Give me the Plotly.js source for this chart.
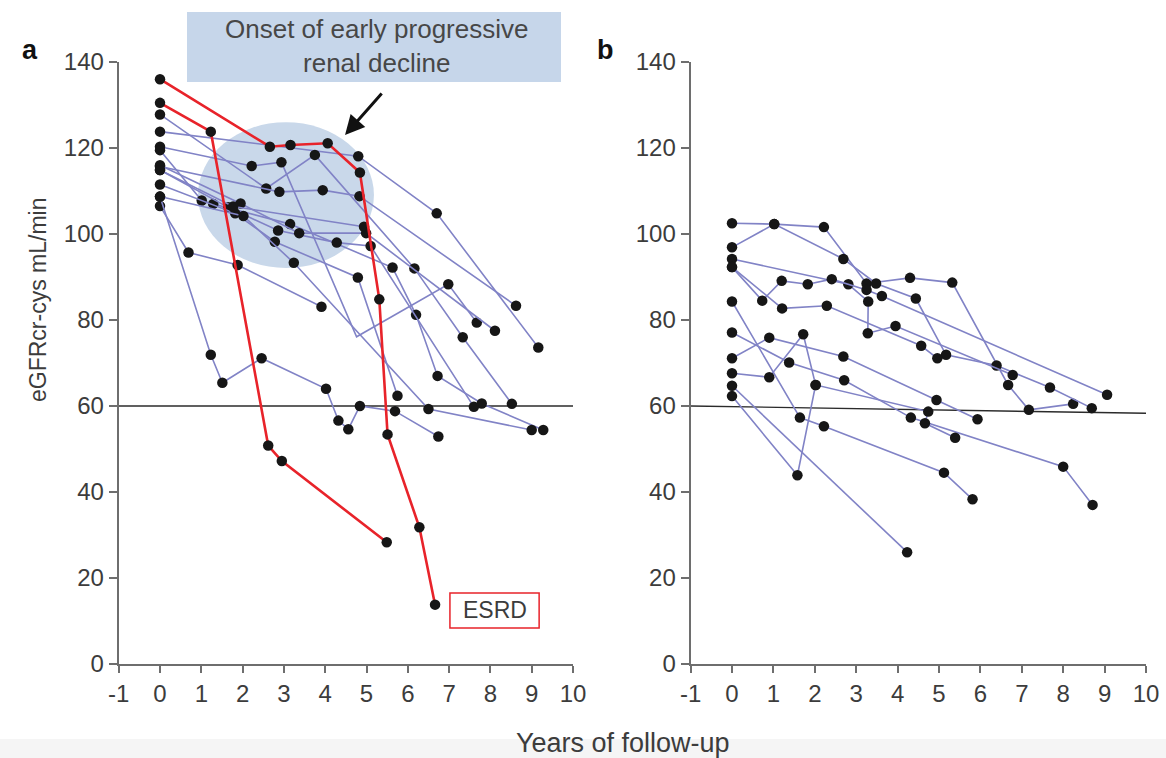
<!DOCTYPE html>
<html>
<head>
<meta charset="utf-8">
<script src="https://cdn.plot.ly/plotly-3.0.1.min.js"></script>
<style>html,body{margin:0;padding:0;background:#fff;}#chart{width:1166px;height:758px;}</style>
</head>
<body>
<div id="chart"></div>
<script>
// ---------- Panel a: individual trajectories (years, eGFRcr-cys mL/min) ----------
const a1x = [0, 4.8, 6.7, 9.16];                 const a1y = [123.8, 118.1, 104.8, 73.6];
const a2x = [0, 0.69, 1.88, 3.91];               const a2y = [106.5, 95.7, 92.8, 83.1];
const a3x = [0, 1.23, 1.51, 2.46, 4.02, 4.32, 4.56, 4.84, 5.69, 6.74];
const a3y = [108.7, 71.9, 65.4, 71.1, 64, 56.6, 54.6, 60, 58.8, 52.9];
const a4x = [0, 2.57, 3.75, 6.16, 7.33, 8.52];   const a4y = [127.8, 110.6, 118.4, 92, 76, 60.5];
const a5x = [0, 2.22, 2.94, 4.76, 6.98, 7.67];   const a5y = [120.3, 115.8, 116.7, 76.1, 88.3, 79.4];
const a5hidden = [3]; // vertex drawn without a dot
const a6x = [0, 1.01, 1.29, 3.15, 5.63, 6.2, 6.72, 7.79, 9.28];
const a6y = [119.5, 107.8, 107, 102.3, 92.2, 81.2, 67, 60.6, 54.4];
const a7x = [0, 2.89, 3.94, 4.83, 8.62];         const a7y = [115.7, 109.8, 110.2, 108.8, 83.3];
const a8x = [0, 1.65, 2.86, 4.28, 5.1, 7.6];     const a8y = [114.9, 106.2, 100.8, 98, 97.2, 59.8];
const a9x = [0, 1.82, 2.78, 4.79, 5.75];         const a9y = [111.5, 104.8, 98.2, 89.9, 62.4];
const a10x = [0, 1.95, 3.37, 4.99, 8.11];        const a10y = [116, 107.1, 100.2, 100.2, 77.5];
const a11x = [0, 2.02, 3.24, 6.5, 9.0];          const a11y = [108.7, 104.2, 93.3, 59.3, 54.4];
const a12x = [0, 1.77, 4.94];                    const a12y = [114.9, 106.4, 101.7];
// ESRD trajectories (red)
const r1x = [0, 2.66, 3.16, 4.06, 4.84, 5.31, 5.51, 6.28, 6.66];
const r1y = [136, 120.3, 120.7, 121.1, 114.3, 84.8, 53.4, 31.8, 13.8];
const r2x = [0, 1.23, 2.62, 2.95, 5.49];         const r2y = [130.5, 123.8, 50.8, 47.2, 28.3];

// ---------- Panel b ----------
const b1x = [0, 1.02, 2.22, 3.25, 4.3, 5.32, 6.67, 7.17, 8.24];
const b1y = [96.9, 102.3, 101.6, 88.5, 89.8, 88.7, 64.9, 59.1, 60.5];
const b2x = [0, 1.02, 2.69, 3.48, 4.44, 5.17, 6.39, 7.68, 8.69];
const b2y = [102.5, 102.3, 94.2, 88.5, 85, 71.9, 69.4, 64.3, 59.5];
const b3x = [0, 2.81, 3.29, 3.28, 3.95, 6.78];   const b3y = [94.2, 88.3, 84.3, 76.9, 78.6, 67.2];
const b4x = [0, 0.73, 1.2, 1.83, 2.41, 3.25, 3.62, 9.06];
const b4y = [92.3, 84.5, 89.1, 88.3, 89.5, 87, 85.6, 62.6];
const b5x = [0, 1.21, 2.29, 4.57, 4.96];         const b5y = [92.3, 82.7, 83.3, 74, 71.1];
const b6x = [0, 1.64, 2.22, 5.12, 5.81];         const b6y = [84.3, 57.3, 55.3, 44.5, 38.3];
const b7x = [0, 1.38, 2.71, 4.32, 8.0, 8.71];    const b7y = [77.1, 70.1, 66, 57.3, 45.9, 37];
const b8x = [0, 0.9, 2.69, 4.94, 5.93];          const b8y = [71.1, 75.9, 71.5, 61.4, 56.9];
const b9x = [0, 0.9, 1.72, 2.02, 4.74, 4.66, 5.39];
const b9y = [67.6, 66.7, 76.7, 64.9, 58.7, 56, 52.6];
const b10x = [0, 4.23];                          const b10y = [64.7, 26];
const b11x = [0, 1.58, 2.02];                    const b11y = [62.3, 43.9, 64.9];

// Tick labels
const xTicks = [-1, 0, 1, 2, 3, 4, 5, 6, 7, 8, 9, 10];
const yTicks = [0, 20, 40, 60, 80, 100, 120, 140];
// Reference lines (eGFR 60)
const refA = {x: [-1, 10], y: [60, 60]};
const refB = {x: [-1, 10.1], y: [60, 58.3]};

const BLUE = '#8183c6', RED = '#e8232a', DOT = '#161616';
const W = 1166, H = 758;

function traj(x, y, axis, color, width, hidden) {
  const sizes = x.map((_, i) => (hidden && hidden.includes(i)) ? 0 : 10.5);
  return {x, y, type: 'scatter', mode: 'lines+markers', xaxis: axis[0], yaxis: axis[1],
    line: {color, width}, marker: {color: DOT, size: sizes, opacity: 1, line: {width: 0}},
    hoverinfo: 'skip', showlegend: false};
}
const A = ['x', 'y'], B = ['x2', 'y2'];
const data = [
  traj(a1x, a1y, A, BLUE, 1.6), traj(a2x, a2y, A, BLUE, 1.6), traj(a3x, a3y, A, BLUE, 1.6),
  traj(a4x, a4y, A, BLUE, 1.6), traj(a5x, a5y, A, BLUE, 1.6, a5hidden), traj(a6x, a6y, A, BLUE, 1.6),
  traj(a7x, a7y, A, BLUE, 1.6), traj(a8x, a8y, A, BLUE, 1.6), traj(a9x, a9y, A, BLUE, 1.6),
  traj(a10x, a10y, A, BLUE, 1.6), traj(a11x, a11y, A, BLUE, 1.6), traj(a12x, a12y, A, BLUE, 1.6),
  traj(r1x, r1y, A, RED, 2.6), traj(r2x, r2y, A, RED, 2.6),
  traj(b1x, b1y, B, BLUE, 1.6), traj(b2x, b2y, B, BLUE, 1.6), traj(b3x, b3y, B, BLUE, 1.6),
  traj(b4x, b4y, B, BLUE, 1.6), traj(b5x, b5y, B, BLUE, 1.6), traj(b6x, b6y, B, BLUE, 1.6),
  traj(b7x, b7y, B, BLUE, 1.6), traj(b8x, b8y, B, BLUE, 1.6), traj(b9x, b9y, B, BLUE, 1.6),
  traj(b10x, b10y, B, BLUE, 1.6), traj(b11x, b11y, B, BLUE, 1.6)
];

const FONT = 'Liberation Sans, Arial, Helvetica, sans-serif';
const TXT = '#3c3c3c';
function xax(domain, anchor) {
  return {domain, anchor, range: [-1, 10], tickvals: xTicks, ticktext: xTicks.map(String),
    showgrid: false, zeroline: false, showline: true, linecolor: '#6e6e6e', linewidth: 2,
    ticks: 'outside', ticklen: 7, tickwidth: 2, tickcolor: '#6e6e6e',
    tickfont: {family: FONT, size: 24, color: TXT}, fixedrange: true};
}
function yax(anchor) {
  return {domain: [94 / H, 1 - 62 / H], anchor, range: [0, 140], tickvals: yTicks, ticktext: yTicks.map(String),
    showgrid: false, zeroline: false, showline: true, linecolor: '#6e6e6e', linewidth: 2,
    ticks: 'outside', ticklen: 8, tickwidth: 2, tickcolor: '#6e6e6e',
    tickfont: {family: FONT, size: 24, color: TXT}, fixedrange: true};
}

const layout = {
  width: W, height: H, margin: {l: 0, r: 0, t: 0, b: 0},
  paper_bgcolor: '#ffffff', plot_bgcolor: 'rgba(0,0,0,0)', showlegend: false,
  xaxis: xax([118.7 / W, 573 / W], 'y'),
  yaxis: yax('x'),
  xaxis2: xax([690.6 / W, 1146 / W], 'y2'),
  yaxis2: yax('x2'),
  shapes: [
    {type: 'rect', xref: 'paper', yref: 'paper', x0: 0, x1: 1, y0: 0, y1: 19 / H,
      fillcolor: '#f5f5f5', line: {width: 0}, layer: 'below'},
    {type: 'circle', xref: 'x', yref: 'y', x0: 0.92, x1: 5.18, y0: 92.1, y1: 126,
      fillcolor: '#c9d8ea', line: {width: 0}, layer: 'below'},
    {type: 'rect', xref: 'paper', yref: 'paper', x0: 187 / W, x1: 561 / W, y0: 1 - 82 / H, y1: 1 - 12 / H,
      fillcolor: '#c6d6ea', line: {width: 0}, layer: 'below'},
    {type: 'line', xref: 'x', yref: 'y', x0: refA.x[0], x1: refA.x[1], y0: refA.y[0], y1: refA.y[1],
      line: {color: '#2b2b2b', width: 1.4}, layer: 'below'},
    {type: 'line', xref: 'x2', yref: 'y2', x0: refB.x[0], x1: refB.x[1], y0: refB.y[0], y1: refB.y[1],
      line: {color: '#2b2b2b', width: 1.4}, layer: 'below'},
    {type: 'rect', xref: 'x', yref: 'y', x0: 7.02, x1: 9.18, y0: 8.4, y1: 16.5,
      fillcolor: '#ffffff', line: {color: '#e8232a', width: 1.5}}
  ],
  annotations: [
    {xref: 'paper', yref: 'paper', x: 376 / W, y: 1 - 46 / H, xanchor: 'center', yanchor: 'middle',
      text: 'Onset of early progressive<br>renal decline',
      showarrow: false, font: {family: FONT, size: 26, color: '#474747'}, align: 'center'},
    {xref: 'x', yref: 'y', x: 4.48, y: 123, ax: 38, ay: -43, text: '', showarrow: true,
      arrowhead: 2, arrowsize: 1.3, arrowwidth: 3, arrowcolor: '#111'},
    {xref: 'x', yref: 'y', x: 8.1, y: 12.45, xanchor: 'center', yanchor: 'middle', text: 'ESRD', showarrow: false,
      font: {family: FONT, size: 23, color: TXT}},
    {xref: 'paper', yref: 'paper', x: 30 / W, y: 1 - 50 / H, xanchor: 'center', yanchor: 'middle',
      text: '<b>a</b>', showarrow: false, font: {family: FONT, size: 27, color: '#111'}},
    {xref: 'paper', yref: 'paper', x: 605 / W, y: 1 - 50 / H, xanchor: 'center', yanchor: 'middle',
      text: '<b>b</b>', showarrow: false, font: {family: FONT, size: 27, color: '#111'}},
    {xref: 'paper', yref: 'paper', x: 623 / W, y: 1 - 743 / H, xanchor: 'center', yanchor: 'middle',
      text: 'Years of follow-up', showarrow: false, font: {family: FONT, size: 27, color: TXT}},
    {xref: 'paper', yref: 'paper', x: 38 / W, y: 1 - 300 / H, xanchor: 'center', yanchor: 'middle',
      text: 'eGFRcr-cys mL/min', showarrow: false,
      textangle: -90, font: {family: FONT, size: 23, color: TXT}}
  ]
};

Plotly.newPlot('chart', data, layout, {staticPlot: true, displayModeBar: false});
</script>
</body>
</html>
